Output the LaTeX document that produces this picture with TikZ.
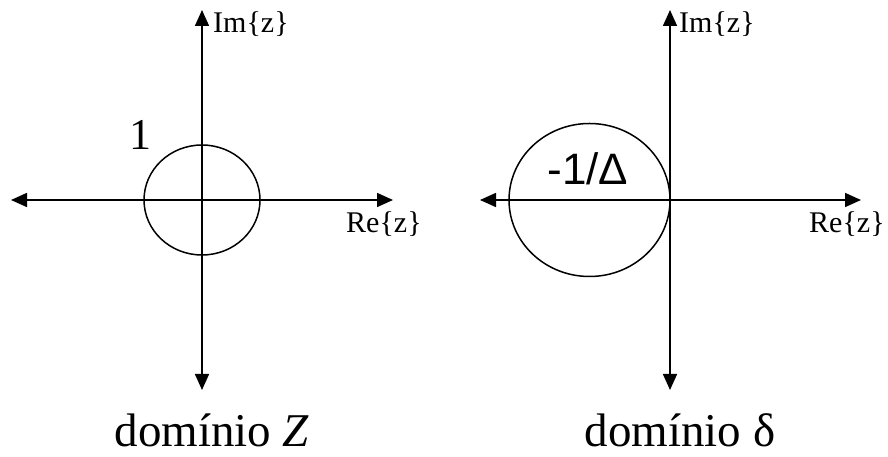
\documentclass[tikz,border=0pt]{standalone}
\usepackage{fontspec}
\setmainfont{Liberation Serif}
\newfontfamily\arialfont{Liberation Sans}
\usetikzlibrary{arrows.meta}

\tikzset{
    axis/.style={line width=1.6pt, {Triangle[length=16pt, width=14pt]}-{Triangle[length=16pt, width=14pt]}},
    axlabel/.style={inner sep=0pt, anchor=base west, font=\fontsize{30}{36}\selectfont},
    bigtext/.style={inner sep=0pt, anchor=base, font=\fontsize{47}{56}\selectfont},
}

\begin{document}
\begin{tikzpicture}[x=1pt, y=1pt]
\useasboundingbox (0,0) rectangle (888,457);
% plano Z
\begin{scope}[shift={(202,257)}]
    \coordinate (zW) at (-191,0);
    \coordinate (zE) at (191,0);
    \coordinate (zN) at (0,190);
    \coordinate (zS) at (0,-190);
    \coordinate (zO) at (0,0);
    \draw[axis] (zW) -- (zE);
    \draw[axis] (zS) -- (zN);
    \draw[line width=1.5pt] (zO) ellipse (58 and 55);
    \node[bigtext, font=\fontsize{44}{52}\selectfont] (zone) at (-62,50) {1};
    \node[axlabel] (zim) at (11,167) {Im\{z\}};
    \node[axlabel] (zre) at (144,-33) {Re\{z\}};
    \node[bigtext] (zcap) at (10,-247) {domínio \textit{Z}};
\end{scope}
% plano delta
\begin{scope}[shift={(670,257)}]
    \coordinate (dW) at (-190,0);
    \coordinate (dE) at (191,0);
    \coordinate (dN) at (0,190);
    \coordinate (dS) at (0,-190);
    \coordinate (dC) at (-80.5,0);
    \draw[axis] (dW) -- (dE);
    \draw[axis] (dS) -- (dN);
    \draw[line width=1.5pt] (dC) ellipse (80.5 and 76.5);
    \node[bigtext, font=\fontsize{44}{52}\selectfont\arialfont] (dlab) at (-82,15) {-1/Δ};
    \node[axlabel] (dim) at (9,167) {Im\{z\}};
    \node[axlabel] (dre) at (139,-33) {Re\{z\}};
    \node[bigtext] (dcap) at (10,-247) {domínio δ};
\end{scope}
\end{tikzpicture}
\end{document}
